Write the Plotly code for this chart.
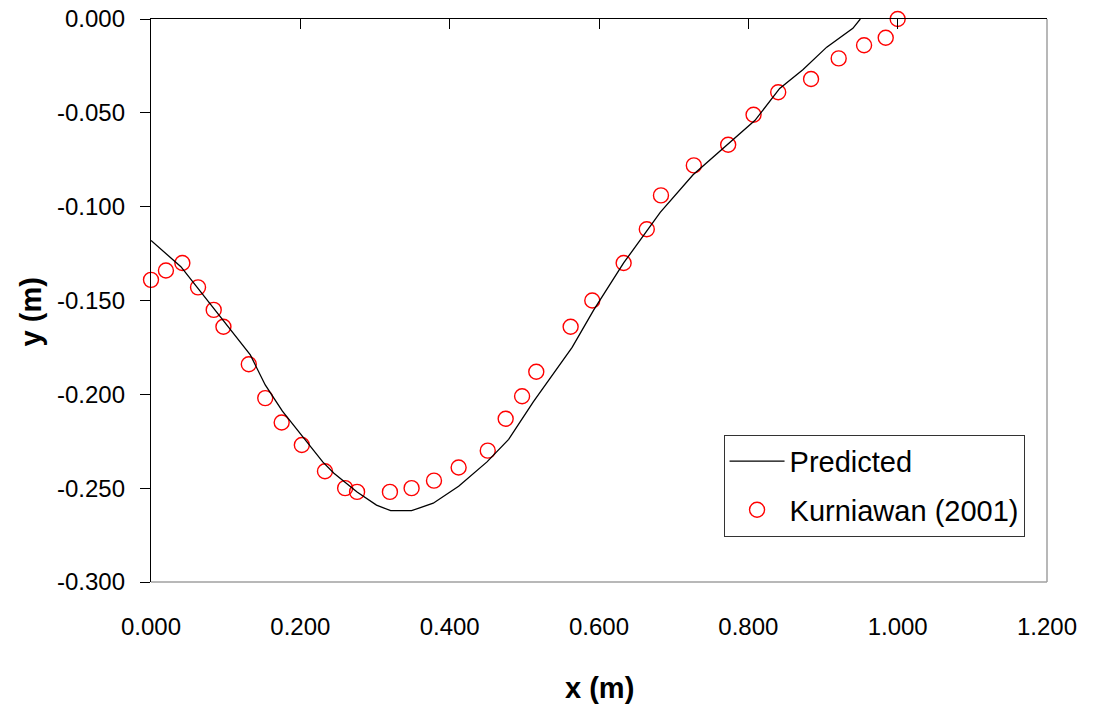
import plotly.graph_objects as go

# Predicted profile
pred_x = [0.000, 0.020, 0.040, 0.133, 0.153, 0.176, 0.202, 0.230, 0.245, 0.276, 0.302, 0.321,
          0.349, 0.378, 0.412, 0.450, 0.479, 0.512, 0.564, 0.593, 0.633, 0.682, 0.726, 0.775,
          0.809, 0.842, 0.873, 0.905, 0.940, 0.950]
pred_y = [-0.118, -0.125, -0.132, -0.179, -0.195, -0.209, -0.222, -0.236, -0.242, -0.252, -0.259, -0.262,
          -0.262, -0.258, -0.249, -0.236, -0.224, -0.204, -0.175, -0.155, -0.130, -0.103, -0.083, -0.066,
          -0.054, -0.037, -0.027, -0.015, -0.005, 0.000]

# Kurniawan (2001) measurements
exp_x = [0.000, 0.020, 0.042, 0.063, 0.084, 0.097, 0.131, 0.153, 0.175, 0.202, 0.233, 0.260,
         0.276, 0.320, 0.349, 0.379, 0.412, 0.451, 0.475, 0.497, 0.516, 0.562, 0.591, 0.633,
         0.664, 0.683, 0.727, 0.773, 0.807, 0.840, 0.884, 0.921, 0.955, 0.984, 1.000]
exp_y = [-0.139, -0.134, -0.130, -0.143, -0.155, -0.164, -0.184, -0.202, -0.215, -0.227, -0.241, -0.250,
         -0.252, -0.252, -0.250, -0.246, -0.239, -0.230, -0.213, -0.201, -0.188, -0.164, -0.150, -0.130,
         -0.112, -0.094, -0.078, -0.067, -0.051, -0.039, -0.032, -0.021, -0.014, -0.010, 0.000]

x_ticks = [0.0, 0.2, 0.4, 0.6, 0.8, 1.0, 1.2]
x_tick_labels = ["0.000", "0.200", "0.400", "0.600", "0.800", "1.000", "1.200"]
y_ticks = [0.0, -0.05, -0.1, -0.15, -0.2, -0.25, -0.3]
y_tick_labels = ["0.000", "-0.050", "-0.100", "-0.150", "-0.200", "-0.250", "-0.300"]

FONT = "Liberation Sans, Arial, sans-serif"

fig = go.Figure()
fig.add_trace(go.Scatter(x=pred_x, y=pred_y, mode="lines", name="Predicted",
                         line=dict(color="black", width=1.3), xaxis="x2", legendgroup="a"))
fig.add_trace(go.Scatter(x=exp_x, y=exp_y, mode="markers", name="Kurniawan (2001)",
                         marker=dict(symbol="circle-open", size=15, color="#ff0000",
                                     line=dict(width=1.4, color="#ff0000")),
                         cliponaxis=False, legendgroup="b"))

fig.update_layout(
    width=1093, height=710,
    margin=dict(l=150.5, r=45.5, t=19.3, b=127.7, autoexpand=False),
    paper_bgcolor="white", plot_bgcolor="white",
    font=dict(family=FONT, size=24, color="black"),
    showlegend=True,
    legend=dict(x=0.639, y=0.2616, xanchor="left", yanchor="top",
                bordercolor="#333333", borderwidth=1, bgcolor="white",
                font=dict(family=FONT, size=29), tracegroupgap=8,
                traceorder="grouped", itemwidth=55),
    xaxis=dict(range=[0, 1.2], tickvals=x_ticks, ticktext=x_tick_labels,
               showgrid=False, zeroline=False, showline=False, ticks="",
               ticklabelstandoff=28, automargin=False),
    xaxis2=dict(range=[0, 1.2], matches="x", overlaying="x", side="top",
                tickvals=x_ticks, showticklabels=False, ticks="inside", ticklen=10,
                tickcolor="black", showline=True, linecolor="black", linewidth=1.3,
                showgrid=False, zeroline=False, automargin=False),
    yaxis=dict(range=[-0.3, 0], tickvals=y_ticks, ticktext=y_tick_labels,
               showgrid=False, zeroline=False, showline=True, linecolor="black", linewidth=1.3,
               ticks="outside", ticklen=10, tickcolor="black", ticklabelstandoff=10,
               automargin=False),
    shapes=[
        dict(type="line", xref="paper", yref="paper", x0=0, x1=1, y0=0, y1=0,
             line=dict(color="#a0a0a0", width=1.5)),
        dict(type="line", xref="paper", yref="paper", x0=1, x1=1, y0=0, y1=1,
             line=dict(color="#a0a0a0", width=1.5)),
    ],
    annotations=[
        dict(text="<b>x (m)</b>", xref="paper", yref="paper", x=0.5, y=-0.188,
             xanchor="center", yanchor="middle", showarrow=False,
             font=dict(family=FONT, size=29)),
        dict(text="<b>y (m)</b>", xref="paper", yref="paper", x=-0.1343, y=0.48,
             xanchor="center", yanchor="middle", showarrow=False, textangle=-90,
             font=dict(family=FONT, size=29)),
    ],
)

fig.write_html("out.html")
